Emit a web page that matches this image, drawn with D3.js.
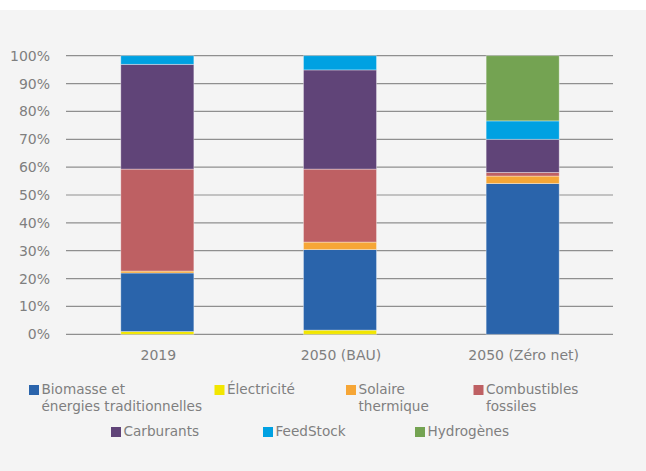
<!DOCTYPE html>
<html>
<head>
<meta charset="utf-8">
<script src="https://cdn.jsdelivr.net/npm/d3@7"></script>
<style>
  html, body { margin: 0; padding: 0; background: #fff; }
  svg { display: block; }
  text { font-family: "DejaVu Sans", sans-serif; fill: #7f7f7f; }
</style>
</head>
<body>
<svg id="chart" width="646" height="471"></svg>
<script>
// ── data ────────────────────────────────────────────────
const scenarios = ['2019', '2050 (BAU)', '2050 (Zéro net)'];
const electricite   = [1.0, 1.5, 0];
const biomasse      = [21.0, 28.9, 54.1];
const solaire       = [0.7, 2.7, 2.7];
const combustibles  = [36.6, 26.2, 1.3];
const carburants    = [37.6, 35.6, 11.9];
const feedstock     = [3.1, 5.1, 6.6];
const hydrogenes    = [0, 0, 23.4];
const yTicks = [0, 10, 20, 30, 40, 50, 60, 70, 80, 90, 100];

// series in stacking order (bottom → top)
const series = [
  { key: 'elec', label: ['Électricité'], values: electricite, color: '#f2e600' },
  { key: 'bio',  label: ['Biomasse et', 'énergies traditionnelles'], values: biomasse, color: '#2a64ab' },
  { key: 'sol',  label: ['Solaire', 'thermique'], values: solaire, color: '#f6a636' },
  { key: 'comb', label: ['Combustibles', 'fossiles'], values: combustibles, color: '#be6063' },
  { key: 'carb', label: ['Carburants'], values: carburants, color: '#604478' },
  { key: 'feed', label: ['FeedStock'], values: feedstock, color: '#00a1e2' },
  { key: 'h2',   label: ['Hydrogènes'], values: hydrogenes, color: '#74a352' }
];
// legend order as in the original
const legendOrder = ['bio', 'elec', 'sol', 'comb', 'carb', 'feed', 'h2'];

const svg = d3.select('#chart');
svg.append('rect').attr('x', 0).attr('y', 10).attr('width', 646).attr('height', 461).attr('fill', '#f4f4f4');

const x = d3.scaleBand().domain(scenarios).range([66, 614]).paddingInner(0.6).paddingOuter(0.3);
const y = d3.scaleLinear().domain([0, 100]).range([334.3, 55.7]);

// gridlines
svg.append('g').selectAll('line').data(yTicks).join('line')
  .attr('x1', 66).attr('x2', 613)
  .attr('y1', d => y(d)).attr('y2', d => y(d))
  .attr('stroke', '#8f8f8f').attr('stroke-width', 1.2);

// y tick labels
svg.append('g').selectAll('text').data(yTicks).join('text')
  .attr('x', 50).attr('y', d => y(d) + 5)
  .attr('text-anchor', 'end').attr('font-size', '14px')
  .text(d => d + '%');

// stacked bars
const rows = scenarios.map((s, i) => {
  const r = { scenario: s };
  series.forEach(se => { r[se.key] = se.values[i]; });
  return r;
});
const stack = d3.stack().keys(series.map(s => s.key))(rows);

svg.append('g').selectAll('g').data(stack).join('g')
  .attr('fill', (d, i) => series[i].color)
  .selectAll('rect').data(d => d.filter(v => v[1] - v[0] > 0)).join('rect')
  .attr('x', d => x(d.data.scenario))
  .attr('width', x.bandwidth())
  .attr('y', d => y(d[1]))
  .attr('height', d => y(d[0]) - y(d[1]))
  .attr('stroke', 'rgba(255,255,255,0.45)')
  .attr('stroke-width', 0.8);

// x labels
svg.append('g').selectAll('text').data(scenarios).join('text')
  .attr('x', d => x(d) + x.bandwidth() / 2 + 1).attr('y', 360)
  .attr('text-anchor', 'middle').attr('font-size', '14px')
  .text(d => d);

// legend
const legendPos = {
  bio:  [29, 394], elec: [214.5, 394], sol: [346, 394], comb: [473.5, 394],
  carb: [111, 436], feed: [263, 436], h2: [415, 436]
};
const lg = svg.append('g');
legendOrder.forEach(k => {
  const s = series.find(se => se.key === k);
  const [lx, ly] = legendPos[k];
  lg.append('rect').attr('x', lx).attr('y', ly - 9).attr('width', 10).attr('height', 10).attr('fill', s.color);
  const t = lg.append('text').attr('x', lx + 12.5).attr('y', ly).attr('font-size', '13.6px');
  s.label.forEach((line, j) => {
    t.append('tspan').attr('x', lx + 12.5).attr('dy', j === 0 ? 0 : 16.5).text(line);
  });
});
</script>
</body>
</html>
